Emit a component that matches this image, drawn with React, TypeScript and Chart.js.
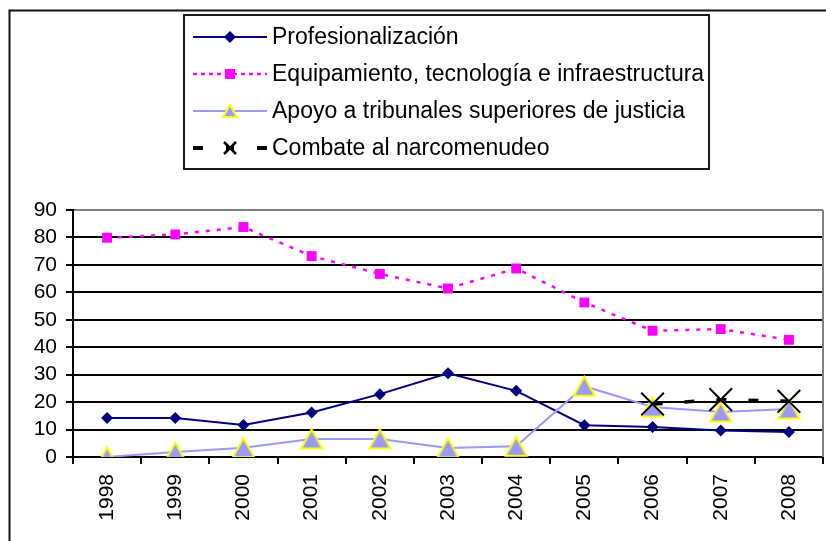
import React, { useEffect, useRef } from 'react';
import { Chart, registerables } from 'chart.js';

Chart.register(...registerables);

const years = ['1998', '1999', '2000', '2001', '2002', '2003', '2004', '2005', '2006', '2007', '2008'];
const profesionalizacion = [14.2, 14.2, 11.7, 16.2, 22.9, 30.5, 24.1, 11.6, 10.9, 9.7, 9.1];
const equipamiento = [79.9, 81.1, 83.8, 73.2, 66.7, 61.4, 68.7, 56.3, 46.0, 46.6, 42.7];
const apoyo = [0, 1.8, 3.4, 6.6, 6.6, 3.3, 3.9, 25.8, 18.2, 16.4, 17.5];
const combate: (number | null)[] = [null, null, null, null, null, null, null, null, 19.3, 20.9, 20.3];
const seriesNames = [
  'Profesionalización',
  'Equipamiento, tecnología e infraestructura',
  'Apoyo a tribunales superiores de justicia',
  'Combate al narcomenudeo',
];
const yMin = 0;
const yMax = 90;
const yStep = 10;

const FONT = '"Liberation Sans", Arial, sans-serif';
const NAVY = '#000080';
const MAGENTA = '#FF00FF';
const LAVENDER = '#9999FF';
const YELLOW = '#FFFF00';

function makeTriangle(w: number, h: number, lw: number): HTMLCanvasElement {
  const c = document.createElement('canvas');
  c.width = w + lw * 2;
  c.height = h + lw * 2;
  const ctx = c.getContext('2d')!;
  ctx.beginPath();
  ctx.moveTo(c.width / 2, lw);
  ctx.lineTo(c.width - lw, lw + h);
  ctx.lineTo(lw, lw + h);
  ctx.closePath();
  ctx.fillStyle = LAVENDER;
  ctx.fill();
  ctx.lineWidth = lw;
  ctx.strokeStyle = YELLOW;
  ctx.lineJoin = 'miter';
  ctx.stroke();
  return c;
}

const frameLegendPlugin = {
  id: 'frameLegend',
  beforeDatasetsDraw(chart: any) {
    const { ctx, chartArea } = chart;
    ctx.save();
    ctx.strokeStyle = '#808080';
    ctx.lineWidth = 2;
    ctx.beginPath();
    ctx.moveTo(chartArea.right, chartArea.top);
    ctx.lineTo(chartArea.right, chartArea.bottom);
    ctx.stroke();
    ctx.restore();
  },
  afterDraw(chart: any) {
    const ctx: CanvasRenderingContext2D = chart.ctx;
    ctx.save();
    // outer chart border (extends beyond the window)
    ctx.strokeStyle = '#111';
    ctx.lineWidth = 2;
    ctx.strokeRect(9.5, 10.5, 2000, 2000);
    // legend box
    ctx.fillStyle = '#fff';
    ctx.fillRect(184, 15, 525, 154);
    ctx.strokeStyle = '#1a1a1a';
    ctx.lineWidth = 2;
    ctx.strokeRect(184, 15, 525, 154);

    const x0 = 193;
    const x1 = 267;
    const xm = 230;
    const textX = 272;
    const rows = [37, 74, 111, 148];
    ctx.font = `23px ${FONT}`;
    ctx.textBaseline = 'middle';
    ctx.textAlign = 'left';

    // row 1
    let y = rows[0];
    ctx.strokeStyle = NAVY;
    ctx.lineWidth = 2;
    ctx.beginPath();
    ctx.moveTo(x0, y);
    ctx.lineTo(x1, y);
    ctx.stroke();
    ctx.fillStyle = NAVY;
    ctx.beginPath();
    ctx.moveTo(xm - 6, y);
    ctx.lineTo(xm, y - 6);
    ctx.lineTo(xm + 6, y);
    ctx.lineTo(xm, y + 6);
    ctx.closePath();
    ctx.fill();

    // row 2
    y = rows[1];
    ctx.strokeStyle = MAGENTA;
    ctx.lineWidth = 2.5;
    ctx.setLineDash([4, 4]);
    ctx.beginPath();
    ctx.moveTo(x0, y);
    ctx.lineTo(x1, y);
    ctx.stroke();
    ctx.setLineDash([]);
    ctx.fillStyle = MAGENTA;
    ctx.fillRect(xm - 5, y - 5, 10, 10);

    // row 3
    y = rows[2];
    ctx.strokeStyle = LAVENDER;
    ctx.lineWidth = 2;
    ctx.beginPath();
    ctx.moveTo(x0, y);
    ctx.lineTo(x1, y);
    ctx.stroke();
    const tri = makeTriangle(14, 12, 2);
    ctx.drawImage(tri, xm - tri.width / 2, y - tri.height / 2);

    // row 4
    y = rows[3];
    ctx.fillStyle = '#000';
    ctx.fillRect(x0, y - 2, 10, 4);
    ctx.fillRect(x1 - 10, y - 2, 10, 4);
    ctx.strokeStyle = '#000';
    ctx.lineWidth = 2.5;
    ctx.beginPath();
    ctx.moveTo(xm - 6, y - 6);
    ctx.lineTo(xm + 6, y + 6);
    ctx.moveTo(xm + 6, y - 6);
    ctx.lineTo(xm - 6, y + 6);
    ctx.stroke();
    ctx.fillRect(xm - 4, y - 2, 8, 4);

    ctx.fillStyle = '#000';
    rows.forEach((ry, i) => {
      ctx.fillText(seriesNames[i], textX, ry + 1);
    });
    ctx.restore();
  },
};

export default function App() {
  const ref = useRef<HTMLCanvasElement | null>(null);
  useEffect(() => {
    if (!ref.current) return;
    const triangle = makeTriangle(21, 19, 2);
    const chart = new Chart(ref.current, {
      type: 'line',
      data: {
        labels: years,
        datasets: [
          {
            label: seriesNames[0],
            data: profesionalizacion,
            borderColor: NAVY,
            backgroundColor: NAVY,
            borderWidth: 2,
            pointStyle: 'rectRot',
            pointRadius: 6,
            pointBorderWidth: 0,
            order: 4,
          },
          {
            label: seriesNames[1],
            data: equipamiento,
            borderColor: MAGENTA,
            backgroundColor: MAGENTA,
            borderWidth: 2.5,
            borderDash: [4, 7],
            pointStyle: 'rect',
            pointRadius: 7,
            pointBorderWidth: 0,
            order: 3,
          },
          {
            label: seriesNames[2],
            data: apoyo,
            borderColor: LAVENDER,
            backgroundColor: LAVENDER,
            borderWidth: 2,
            pointStyle: triangle as any,
            pointRadius: 11,
            order: 2,
          },
          {
            label: seriesNames[3],
            data: combate,
            borderColor: '#000',
            backgroundColor: '#000',
            borderWidth: 3.5,
            borderDash: [10, 22],
            pointStyle: 'crossRot',
            pointRadius: 16,
            pointBorderWidth: 2,
            order: 1,
          },
        ],
      },
      options: {
        responsive: false,
        animation: false,
        events: [],
        layout: { autoPadding: false, padding: { top: 210, right: 3, left: 0, bottom: 0 } },
        elements: { line: { tension: 0 } },
        plugins: {
          legend: { display: false },
          tooltip: { enabled: false },
          title: { display: false },
        },
        scales: {
          x: {
            type: 'category',
            offset: true,
            grid: {
              offset: true,
              drawOnChartArea: false,
              drawTicks: true,
              tickLength: 7,
              color: '#000',
              lineWidth: 2,
            },
            border: { color: '#000', width: 2 },
            ticks: {
              minRotation: 90,
              maxRotation: 90,
              autoSkip: false,
              color: '#000',
              padding: 10,
              font: { size: 21, family: FONT },
            },
            afterFit: (s: any) => {
              s.height = 84;
              s.paddingRight = 0;
              s.paddingLeft = 0;
            },
          },
          y: {
            min: yMin,
            max: yMax,
            ticks: {
              stepSize: yStep,
              autoSkip: false,
              color: '#000',
              padding: 9,
              font: { size: 21, family: FONT },
            },
            grid: {
              color: (c: any) => (c.tick && c.tick.value === yMax ? '#808080' : '#000'),
              tickColor: '#000',
              lineWidth: 2,
              drawTicks: true,
              tickLength: 7,
            },
            border: { color: '#000', width: 2 },
            afterFit: (s: any) => {
              s.width = 73;
              s.paddingTop = 0;
              s.paddingBottom = 0;
            },
          },
        },
      },
      plugins: [frameLegendPlugin],
    });
    return () => chart.destroy();
  }, []);
  return (
    <div style={{ position: 'fixed', left: 0, top: 0, width: 826, height: 541, background: '#fff' }}>
      <canvas ref={ref} width={826} height={541} style={{ display: 'block' }} />
    </div>
  );
}
